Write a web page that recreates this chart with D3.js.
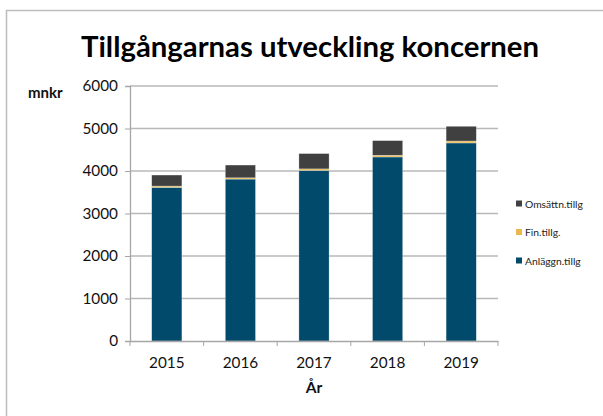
<!DOCTYPE html>
<html lang="sv">
<head>
<meta charset="UTF-8">
<title>Tillgångarnas utveckling koncernen</title>
<style>
  body { margin: 0; background: #fff; }
  text { font-family: Lato, "Open Sans", sans-serif; }
</style>
</head>
<body>
<svg id="svg" width="603" height="416"></svg>
<script src="https://d3js.org/d3.v7.min.js"></script>
<script>
  // data (mnkr)
  const years = ['2015', '2016', '2017', '2018', '2019']
  const anlaggn = [3615, 3810, 4015, 4330, 4660]
  const fin = [30, 30, 35, 40, 45]
  const omsattn = [260, 300, 360, 345, 347]
  const yTicks = [0, 1000, 2000, 3000, 4000, 5000, 6000]

  const series = [
    { key: 'Anläggn.tillg', values: anlaggn, color: '#024a6b' },
    { key: 'Fin.tillg.', values: fin, color: '#e9b94e' },
    { key: 'Omsättn.tillg', values: omsattn, color: '#404040' }
  ]

  const rows = years.map((y, i) => {
    const r = { year: y }
    series.forEach(s => { r[s.key] = s.values[i] })
    return r
  })

  const stack = d3.stack().keys(series.map(s => s.key))
  const stacked = stack(rows)

  const svg = d3.select('#svg')

  // outer frame
  svg.append('rect')
    .attr('x', 6.5).attr('y', 10.5)
    .attr('width', 620).attr('height', 420)
    .attr('fill', 'none').attr('stroke', '#bdbdbd').attr('stroke-width', 1.5)

  const x = d3.scaleBand().domain(years).range([130, 498]).paddingInner(0.59).paddingOuter(0.295)
  const xOuter = d3.scaleBand().domain(years).range([130, 498])
  const y = d3.scaleLinear().domain([0, 6000]).range([341, 86])

  // gridlines
  svg.append('g')
    .selectAll('line')
    .data(yTicks.filter(d => d > 0))
    .join('line')
    .attr('x1', 130).attr('x2', 498)
    .attr('y1', d => y(d)).attr('y2', d => y(d))
    .attr('stroke', '#b8b8b8').attr('stroke-width', 1.3)

  // bars
  svg.append('g')
    .selectAll('g')
    .data(stacked)
    .join('g')
    .attr('fill', (d, i) => series[i].color)
    .selectAll('rect')
    .data(d => d)
    .join('rect')
    .attr('x', d => x(d.data.year))
    .attr('width', x.bandwidth())
    .attr('y', d => y(d[1]))
    .attr('height', d => y(d[0]) - y(d[1]))
    .attr('stroke', 'rgba(255,255,255,0.45)')
    .attr('stroke-width', 0.6)

  // y axis
  const yAxis = svg.append('g')
    .attr('transform', 'translate(130,0)')
    .call(d3.axisLeft(y).tickValues(yTicks).tickSize(5).tickPadding(7).tickFormat(d3.format('d')))
  yAxis.select('.domain').attr('stroke', '#a6a6a6').attr('stroke-width', 1.3)
  yAxis.selectAll('.tick line').attr('stroke', '#a6a6a6')
  yAxis.selectAll('.tick text')
    .attr('font-family', 'Lato, "Open Sans", sans-serif')
    .attr('font-size', 15.3).attr('fill', '#111')

  // x axis
  const xAxis = svg.append('g')
    .attr('transform', 'translate(0,341)')
    .call(d3.axisBottom(xOuter).tickSize(0).tickPadding(16))
  xAxis.select('.domain').attr('stroke', '#a6a6a6').attr('stroke-width', 1.3)
  xAxis.selectAll('.tick text')
    .attr('font-family', 'Lato, "Open Sans", sans-serif')
    .attr('font-size', 15.3).attr('fill', '#111')
  // category separators
  xAxis.append('g')
    .selectAll('line')
    .data(years.concat(['end']))
    .join('line')
    .attr('x1', (d, i) => i < years.length ? xOuter(d) : 498)
    .attr('x2', (d, i) => i < years.length ? xOuter(d) : 498)
    .attr('y1', 0).attr('y2', 5)
    .attr('stroke', '#a6a6a6')

  // title + axis titles
  svg.append('text')
    .attr('x', 310).attr('y', 57)
    .attr('text-anchor', 'middle')
    .attr('font-size', 29.3).attr('font-weight', 'bold').attr('fill', '#000')
    .text('Tillgångarnas utveckling koncernen')

  svg.append('text')
    .attr('x', 28).attr('y', 98)
    .attr('font-size', 15).attr('font-weight', 'bold').attr('fill', '#111')
    .text('mnkr')

  svg.append('text')
    .attr('x', 314).attr('y', 393)
    .attr('text-anchor', 'middle')
    .attr('font-size', 15.5).attr('font-weight', 'bold').attr('fill', '#111')
    .text('År')

  // legend
  const legend = svg.append('g')
    .selectAll('g')
    .data(series.slice().reverse())
    .join('g')
    .attr('transform', (d, i) => `translate(516,${204 + i * 28.5})`)
  legend.append('rect')
    .attr('x', 0).attr('y', -3.5).attr('width', 6).attr('height', 6)
    .attr('fill', d => d.color)
  legend.append('text')
    .attr('x', 9).attr('y', 3.5)
    .attr('font-size', 10.3).attr('fill', '#222')
    .text(d => d.key)
</script>
</body>
</html>
